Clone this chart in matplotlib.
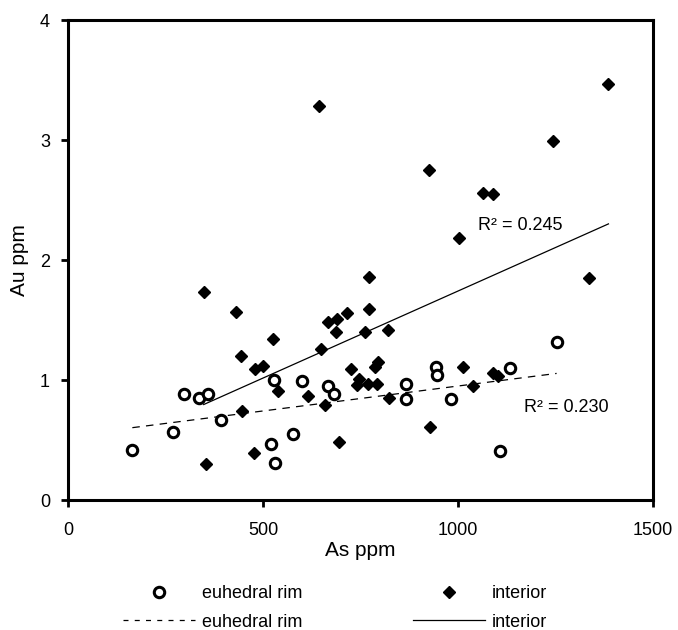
import numpy as np
import matplotlib.pyplot as plt
from matplotlib.lines import Line2D

plt.rcParams['font.family'] = ['Liberation Sans', 'DejaVu Sans']

# euhedral rim analyses (As ppm, Au ppm)
rim_as = [165, 268, 297, 336, 360, 392, 520, 528, 531, 576, 601,
          668, 682, 866, 867, 944, 946, 981, 1108, 1133, 1253]
rim_au = [0.42, 0.57, 0.88, 0.85, 0.88, 0.67, 0.47, 1.00, 0.31, 0.55, 0.99,
          0.95, 0.88, 0.97, 0.84, 1.11, 1.04, 0.84, 0.41, 1.10, 1.32]

# interior analyses (As ppm, Au ppm)
int_as = [348, 354, 432, 443, 445, 478, 479, 499, 525, 539, 616,
          644, 648, 659, 667, 686, 690, 696, 715, 726, 745, 740,
          762, 770, 772, 772, 787, 796, 793, 821, 822, 928, 926,
          1003, 1014, 1038, 1063, 1089, 1091, 1103, 1244, 1337, 1386]
int_au = [1.73, 0.30, 1.57, 1.20, 0.74, 0.39, 1.09, 1.12, 1.34, 0.91, 0.87,
          3.28, 1.26, 0.79, 1.48, 1.40, 1.51, 0.48, 1.56, 1.09, 1.01, 0.96,
          1.40, 0.97, 1.86, 1.59, 1.11, 1.15, 0.97, 1.42, 0.85, 0.61, 2.75,
          2.18, 1.11, 0.95, 2.56, 2.55, 1.06, 1.03, 2.99, 1.85, 3.47]

r2_labels = ['R\u00b2 = 0.245', 'R\u00b2 = 0.230']

fig = plt.figure(figsize=(6.78, 6.30), dpi=100)
ax = fig.add_axes([0.1003, 0.2063, 0.8627, 0.7619])

ax.plot(rim_as, rim_au, 'o', ms=7.5, mfc='white', mec='black', mew=2.2,
        zorder=3)
ax.plot(int_as, int_au, 'D', ms=6.5, color='black', zorder=3)

# linear trendlines over each data range
for xs, ys, ls in [(rim_as, rim_au, (0, (6, 5))), (int_as, int_au, '-')]:
    xs = np.array(xs)
    k, b = np.polyfit(xs, np.array(ys), 1)
    xx = np.array([xs.min(), xs.max()])
    ax.plot(xx, k * xx + b, color='black', lw=0.9, linestyle=ls, zorder=2)

ax.text(1051, 2.29, r2_labels[0], fontsize=13, va='center')
ax.text(1169, 0.77, r2_labels[1], fontsize=13, va='center')

ax.set_xlim(0, 1500)
ax.set_ylim(0, 4)
ax.set_xticks([0, 500, 1000, 1500])
ax.set_yticks([0, 1, 2, 3, 4])
ax.tick_params(labelsize=13, width=2, length=5, direction='out')
ax.tick_params(axis='x', pad=11)
ax.tick_params(axis='y', pad=8)
for s in ax.spines.values():
    s.set_linewidth(2.2)

ax.set_xlabel('As ppm', fontsize=15, labelpad=1)
ax.set_ylabel('Au ppm', fontsize=15, labelpad=8)

handles = [
    Line2D([], [], ls='none', marker='o', ms=7.5, mfc='white', mec='black', mew=2.2),
    Line2D([], [], color='black', lw=0.9, linestyle=(0, (4, 5))),
    Line2D([], [], ls='none', marker='D', ms=6.5, color='black'),
    Line2D([], [], color='black', lw=0.9),
]
labels = ['euhedral rim', 'euhedral rim', 'interior', 'interior']
fig.legend(handles, labels, ncol=2, loc='center', bbox_to_anchor=(0.494, 0.035),
           frameon=False, fontsize=13, handlelength=4.0, handletextpad=0.4,
           columnspacing=6.1, labelspacing=0.65)

fig.savefig('out.png', dpi=100)
